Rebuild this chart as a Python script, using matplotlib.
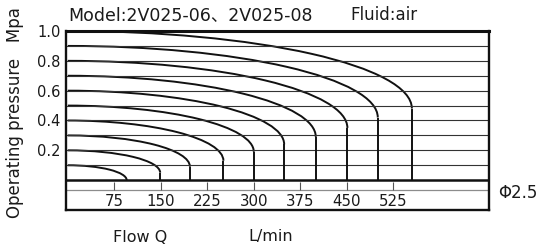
import matplotlib
matplotlib.use('Agg')
from matplotlib import pyplot as plt
from matplotlib.patches import Arc

plt.rcParams['font.family'] = ['DejaVu Sans', 'Noto Sans CJK SC']

# supply pressure of each curve (MPa), flow where it hits zero (L/min),
# and pressure where the curve turns vertical
pressures = [0.1, 0.2, 0.3, 0.4, 0.5, 0.6, 0.7, 0.8, 0.9, 1.0]
end_flows = [95, 149, 197, 251, 300, 349, 400, 451, 500, 555]
knee_pressures = [0.0, 0.05, 0.09, 0.13, 0.19, 0.24, 0.29, 0.35, 0.42, 0.48]

grid_pressures = [0.1, 0.2, 0.3, 0.4, 0.5, 0.6, 0.7, 0.8, 0.9]
pressure_ticks = [0.2, 0.4, 0.6, 0.8, 1.0]
pressure_labels = ['0.2', '0.4', '0.6', '0.8', '1.0']
flow_ticks = [75, 150, 225, 300, 375, 450, 525]
flow_labels = ['75', '150', '225', '300', '375', '450', '525']

W, H = 542, 248
fig = plt.figure(figsize=(W / 100, H / 100), dpi=100)
ax = fig.add_axes([65.5 / W, 38 / H, (489 - 65.5) / W, (210 - 31) / H])
ax.set_xlim(-3.7, 679.4)
ax.set_ylim(-0.2, 1.0)

for spine in ax.spines.values():
    spine.set_linewidth(1.7)
    spine.set_color('#111111')
ax.spines['top'].set_linewidth(2.2)

# horizontal grid lines and the zero-pressure line
ax.hlines(grid_pressures, -3.7, 679.4, colors='#333333', lw=0.8)
ax.axhline(0, color='#111111', lw=1.8)

# flow scale strip under the chart
ax.axhline(-0.067, color='#8c8c8c', lw=0.9)
ax.vlines(flow_ticks, -0.067, -0.015, colors='#555555', lw=0.8)
for f, lab in zip(flow_ticks, flow_labels):
    ax.text(f, -0.141, lab, ha='center', va='center', fontsize=10.8,
            color='#1a1a1a')

# flow curves
for p, q, k in zip(pressures, end_flows, knee_pressures):
    ax.add_patch(Arc((0, k), 2 * q, 2 * (p - k), theta1=0, theta2=90,
                     color='#111111', lw=1.4))
    if k > 0:
        ax.plot([q, q], [0, k], color='#111111', lw=1.4,
                solid_capstyle='butt')

ax.set_xticks([])
ax.set_yticks(pressure_ticks)
ax.set_yticklabels(pressure_labels, fontsize=10.5, color='#1a1a1a')
ax.tick_params(axis='y', length=0, pad=3.5)

fig.text(68 / W, 1 - 20 / H, 'Model:2V025-06、2V025-08', fontsize=12.5,
         ha='left', va='baseline', color='#1a1a1a')
fig.text(350 / W, 1 - 20 / H, 'Fluid:air', fontsize=12,
         ha='left', va='baseline', color='#1a1a1a')
fig.text(15 / W, 1 - 113 / H, 'Operating pressure   Mpa', rotation=90,
         fontsize=12, ha='center', va='center', color='#1a1a1a')
fig.text(113 / W, 1 - 237 / H, 'Flow Q', fontsize=11.5, ha='left',
         va='center', color='#1a1a1a')
fig.text(248 / W, 1 - 237 / H, 'L/min', fontsize=11.5, ha='left',
         va='center', color='#1a1a1a')
fig.text(498 / W, 1 - 193 / H, 'Φ2.5', fontsize=12, ha='left',
         va='center', color='#1a1a1a')

fig.savefig('out.png', dpi=100)
